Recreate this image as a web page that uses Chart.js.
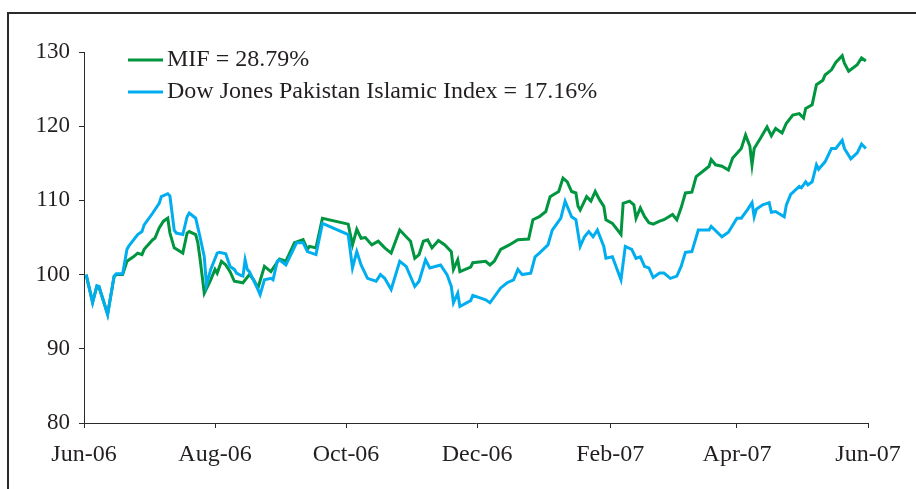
<!DOCTYPE html>
<html>
<head>
<meta charset="utf-8">
<script src="https://cdn.jsdelivr.net/npm/chart.js@4"></script>
<style>
  html, body { margin: 0; padding: 0; background: #fff; overflow: hidden; }
  #frame { position: absolute; left: 7px; top: 12px; width: 1000px; height: 600px; border: 2px solid #2b2b2b; }
  #wrap { position: absolute; left: 0; top: 0; width: 916px; height: 489px; }
</style>
</head>
<body>
<div id="frame"></div>
<div id="wrap"><canvas id="chart" width="916" height="489"></canvas></div>
<script>
  // --- Data (x = days since 1 Jun 2006) ---
  const tickDays = [0, 61, 122, 183, 245, 304, 365];
  const tickLabels = ['Jun-06', 'Aug-06', 'Oct-06', 'Dec-06', 'Feb-07', 'Apr-07', 'Jun-07'];
  const yTicks = [80, 90, 100, 110, 120, 130];

  const mifLabel = 'MIF = 28.79%';
  const mifDays = [1, 4, 6, 7, 11, 14, 15, 18, 20, 23, 25, 27, 28, 32, 33, 35, 37, 39, 40, 42,
    46, 48, 49, 52, 53, 54, 56, 59, 61, 62, 64, 66, 68, 70, 74, 77, 79, 81, 84, 87,
    91, 94, 98, 102, 104, 105, 108, 111, 123, 125, 127, 129, 131, 134, 137, 140, 143, 147, 150, 152,
    154, 156, 158, 160, 162, 165, 168, 171, 172, 174, 175, 180, 181, 187, 189, 191, 194, 198, 202, 207,
    209, 212, 215, 217, 221, 223, 225, 227, 229, 230, 231, 234, 236, 238, 240, 242, 243, 246, 250, 251,
    254, 256, 257, 259, 261, 263, 265, 268, 270, 274, 276, 278, 280, 283, 285, 288, 291, 292, 294, 297,
    300, 302, 306, 308, 310, 311, 312, 315, 318, 320, 322, 325, 327, 330, 333, 335, 336, 339, 341, 344,
    345, 348, 350, 353, 354, 356, 360, 362, 364];
  const mifValues = [100, 96.3, 98.4, 98.3, 94.7, 99.7, 100, 100, 101.8, 102.4, 102.9, 102.7, 103.4, 104.7, 104.9, 106.3, 107.2, 107.6, 105.6, 103.6,
    102.9, 105.6, 105.8, 105.4, 104.3, 102.2, 97.5, 99.3, 100.7, 100.2, 101.8, 101.3, 100.4, 99.1, 98.9, 100, 99.3, 98.2, 101.1, 100.4,
    102.1, 101.8, 104.3, 104.7, 103.4, 103.8, 103.6, 107.6, 106.8, 104, 106.1, 104.9, 105, 104, 104.5, 103.6, 102.9, 106, 105.1, 104.5,
    102.2, 102.7, 104.5, 104.7, 103.6, 104.6, 104, 103.1, 100.7, 102, 100.4, 101, 101.6, 101.8, 101.3, 101.8, 103.4, 104, 104.7, 104.8,
    107.4, 107.8, 108.5, 110.5, 111.2, 113, 112.5, 111.2, 111, 109.2, 108.7, 110.5, 109.9, 111.2, 110.1, 109.2, 107.4, 106.9, 105.4, 109.6,
    109.9, 109.4, 107.6, 109, 107.8, 107, 106.8, 107.2, 107.4, 108.1, 107.4, 109, 111, 111.1, 113.2, 113.9, 114.6, 115.5, 114.8, 114.6,
    114.1, 115.7, 117, 118.8, 117.3, 114.8, 117, 118.4, 119.9, 118.7, 119.7, 119.1, 120.4, 121.5, 121.7, 121.1, 122.4, 122.9, 125.6, 126.2,
    126.9, 127.6, 128.6, 129.5, 128.5, 127.4, 128.3, 129.2, 128.8];

  const djLabel = 'Dow Jones Pakistan Islamic Index = 17.16%';
  const djDays = [1, 4, 6, 7, 11, 14, 15, 18, 20, 21, 25, 27, 28, 32, 35, 36, 39, 40, 42, 43,
    46, 48, 49, 52, 54, 56, 57, 59, 62, 63, 66, 68, 70, 71, 73, 74, 75, 76, 77, 80,
    82, 84, 87, 88, 90, 91, 94, 99, 102, 104, 108, 111, 123, 125, 127, 129, 132, 136, 138, 140,
    143, 147, 150, 154, 156, 159, 161, 166, 169, 171, 172, 174, 175, 180, 181, 187, 189, 194, 197, 200,
    202, 204, 208, 210, 212, 216, 218, 222, 224, 227, 229, 231, 233, 235, 237, 239, 242, 243, 246, 250,
    252, 255, 257, 259, 261, 263, 265, 268, 270, 273, 276, 278, 280, 283, 286, 291, 292, 297, 300, 304,
    306, 309, 311, 312, 313, 316, 319, 320, 322, 326, 327, 329, 333, 334, 336, 337, 339, 341, 342, 345,
    348, 350, 353, 354, 357, 360, 362, 364];
  const djValues = [100, 96.2, 98.5, 98.4, 94.6, 99.8, 100.1, 100.1, 103.4, 103.9, 105.4, 105.8, 106.7, 108.3, 109.6, 110.5, 110.9, 110.6, 106, 105.6,
    105.4, 107.8, 108.3, 107.6, 105.1, 102.4, 98.6, 100.7, 102.9, 103, 102.8, 101.1, 100.7, 100.2, 99.9, 99.8, 102, 100.7, 100.4, 98.6,
    97.3, 99.3, 99.5, 99.3, 101.8, 102, 101.3, 104.3, 104.3, 103.1, 102.7, 106.9, 105.4, 100.9, 103.1, 101.3, 99.5, 99.1, 100, 99.5,
    98, 101.8, 101.1, 98.4, 99.1, 102, 100.9, 101.3, 100, 98.4, 96.2, 97.5, 95.7, 96.5, 97.2, 96.6, 96.2, 98.2, 98.9, 99.3,
    100.7, 100, 100.2, 102.4, 102.9, 104, 106, 107.6, 109.9, 107.8, 107.4, 103.8, 105.1, 105.8, 105.1, 106, 103.8, 102.2, 102.4, 99.3,
    103.8, 103.4, 102.2, 102.4, 101.1, 100.9, 99.6, 100.2, 100.2, 99.5, 99.8, 101.1, 103, 103.1, 106, 106, 106.5, 105.1, 105.7, 107.6,
    107.6, 108.8, 109.7, 107.8, 108.8, 109.4, 109.7, 108.4, 108.5, 107.8, 109.4, 110.8, 111.9, 111.7, 112.5, 112.1, 112.5, 114.8, 114.2, 115.2,
    117, 117, 118.1, 117, 115.6, 116.4, 117.6, 117];

  const GREEN = '#00953f';
  const BLUE = '#00aeef';
  const TEXT = '#231f20';
  const AXIS = '#2b2b2b';
  const FONT = '"Liberation Serif", "Times New Roman", serif';

  function toPoints(days, values) {
    return days.map((d, i) => ({ x: d, y: values[i] }));
  }

  // legend drawn inside the plot area, top-left, two rows
  const innerLegend = {
    id: 'innerLegend',
    afterDatasetsDraw(chart) {
      const ctx = chart.ctx;
      const area = chart.chartArea;
      const x0 = area.left + 44;
      let y = area.top + 8;
      ctx.save();
      ctx.font = '24px ' + FONT;
      ctx.textBaseline = 'middle';
      chart.data.datasets.forEach(ds => {
        ctx.strokeStyle = ds.borderColor;
        ctx.lineWidth = 3;
        ctx.beginPath();
        ctx.moveTo(x0, y);
        ctx.lineTo(x0 + 35, y);
        ctx.stroke();
        ctx.fillStyle = TEXT;
        ctx.fillText(ds.label, x0 + 39, y);
        y += 32;
      });
      ctx.restore();
    }
  };

  new Chart(document.getElementById('chart'), {
    type: 'line',
    data: {
      datasets: [
        {
          label: mifLabel,
          data: toPoints(mifDays, mifValues),
          borderColor: GREEN,
          borderWidth: 3,
          pointRadius: 0,
          tension: 0,
          order: 1
        },
        {
          label: djLabel,
          data: toPoints(djDays, djValues),
          borderColor: BLUE,
          borderWidth: 3,
          pointRadius: 0,
          tension: 0,
          order: 0
        }
      ]
    },
    options: {
      responsive: false,
      animation: false,
      events: [],
      layout: { padding: { left: 0, right: 48, top: 52, bottom: 0 } },
      plugins: {
        legend: { display: false },
        tooltip: { enabled: false }
      },
      scales: {
        x: {
          type: 'linear',
          min: 0,
          max: 365,
          afterBuildTicks: scale => { scale.ticks = tickDays.map(v => ({ value: v })); },
          afterFit: scale => { scale.height = 66; },
          ticks: {
            autoSkip: false,
            maxRotation: 0,
            padding: 12,
            color: TEXT,
            font: { family: FONT, size: 24 },
            callback: value => tickLabels[tickDays.indexOf(value)]
          },
          grid: { drawOnChartArea: false, drawTicks: true, tickLength: 5, color: AXIS },
          border: { color: AXIS, width: 1 }
        },
        y: {
          min: 80,
          max: 130,
          afterBuildTicks: scale => { scale.ticks = yTicks.map(v => ({ value: v })); },
          afterFit: scale => { scale.width = 84; },
          ticks: {
            padding: 9,
            color: TEXT,
            font: { family: FONT, size: 23 }
          },
          grid: { drawOnChartArea: false, drawTicks: true, tickLength: 5, color: AXIS },
          border: { color: AXIS, width: 1 }
        }
      }
    },
    plugins: [innerLegend]
  });
</script>
</body>
</html>
